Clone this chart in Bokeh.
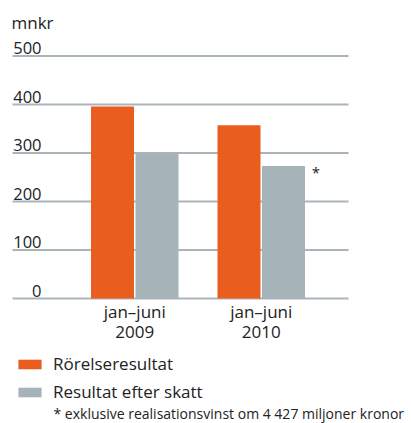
from bokeh.plotting import figure
from bokeh.models import Range1d, Legend, LegendItem
from bokeh.core.properties import value
from bokeh.embed import file_html
from bokeh.resources import INLINE

# ---- data ----
categories = ["jan\u2013juni", "jan\u2013juni"]
years = ["2009", "2010"]
rorelseresultat = [396, 357]
resultat_efter_skatt = [299, 273]
y_ticks = [0, 100, 200, 300, 400, 500]
y_tick_labels = ["0", "100", "200", "300", "400", "500"]
series_names = ["R\u00f6relseresultat", "Resultat efter skatt"]
unit_label = "mnkr"
footnote = "* exklusive realisationsvinst om 4 427 miljoner kronor"

ORANGE = "#e95e1f"
GREY = "#a6b4ba"
GRID = "#a9b5bb"
TXT = "#222222"
FONT = "Open Sans"

W, H = 411, 423
PX_PER_X = 126.5      # px per category step
X0_PX = 134.25        # canvas px of category 0
Y0_PX = 298.0         # canvas px of value 0
PX_PER_Y = 0.485      # px per unit

def dx(canvas_px):
    return (canvas_px - X0_PX) / PX_PER_X

def dy(canvas_px):
    return (Y0_PX - canvas_px) / PX_PER_Y

p = figure(width=W, height=H, output_backend="svg", toolbar_location=None,
           x_range=Range1d(dx(0), dx(W)), y_range=Range1d(dy(H), dy(0)),
           min_border=0, outline_line_color=None)
p.axis.visible = False
p.grid.visible = False
p.background_fill_color = "white"
p.border_fill_color = "white"

# gridlines
p.segment(x0=[dx(12)] * len(y_ticks), x1=[dx(348)] * len(y_ticks),
          y0=y_ticks, y1=y_ticks, line_color=GRID, line_width=2)

# bars
idx = list(range(len(categories)))
off = 22.25 / PX_PER_X
bw = 43 / PX_PER_X
r1 = p.vbar(x=[i - off for i in idx], top=rorelseresultat, width=bw,
            fill_color=ORANGE, line_color=None)
r2 = p.vbar(x=[i + off for i in idx], top=resultat_efter_skatt, width=bw,
            fill_color=GREY, line_color=None)

# y tick labels (right aligned above the gridlines)
p.text(x=[dx(41)] * len(y_ticks), y=y_ticks, text=y_tick_labels,
       text_align="right", text_baseline="alphabetic", y_offset=-8,
       text_font=value(FONT), text_font_size="16.5px", text_color=TXT)

# unit label
p.text(x=[dx(11)], y=[dy(22)], text=[unit_label], text_align="left",
       text_baseline="alphabetic", text_font=value(FONT),
       text_font_size="17px", text_color=TXT)

# category labels
p.text(x=idx, y=[0, 0], text=categories, text_align="center",
       text_baseline="alphabetic", y_offset=13, text_font=value(FONT),
       text_font_size="17px", text_color=TXT)
p.text(x=idx, y=[0, 0], text=years, text_align="center",
       text_baseline="alphabetic", y_offset=33, text_font=value(FONT),
       text_font_size="17px", text_color=TXT)

# asterisk next to 2010 after-tax bar
p.text(x=[1 + off + bw / 2 + 11 / PX_PER_X], y=[resultat_efter_skatt[1]],
       text=["*"], text_align="center", text_baseline="middle", y_offset=6,
       text_font=value(FONT), text_font_size="15px", text_color=TXT)

# footnote
p.text(x=[dx(53)], y=[dy(413)], text=[footnote], text_align="left",
       text_baseline="alphabetic", text_font=value(FONT),
       text_font_size="14px", text_color=TXT)

legend = Legend(items=[LegendItem(label=series_names[0], renderers=[r1]),
                       LegendItem(label=series_names[1], renderers=[r2])],
                location=(15, 20), orientation="vertical",
                glyph_width=29, glyph_height=12, label_height=20,
                label_standoff=9, spacing=5, padding=0, margin=0,
                border_line_color=None, background_fill_alpha=0,
                label_text_font=FONT, label_text_font_size="17px",
                label_text_color=TXT)
p.add_layout(legend, "center")

open("out.html", "w").write(file_html(p, INLINE))
